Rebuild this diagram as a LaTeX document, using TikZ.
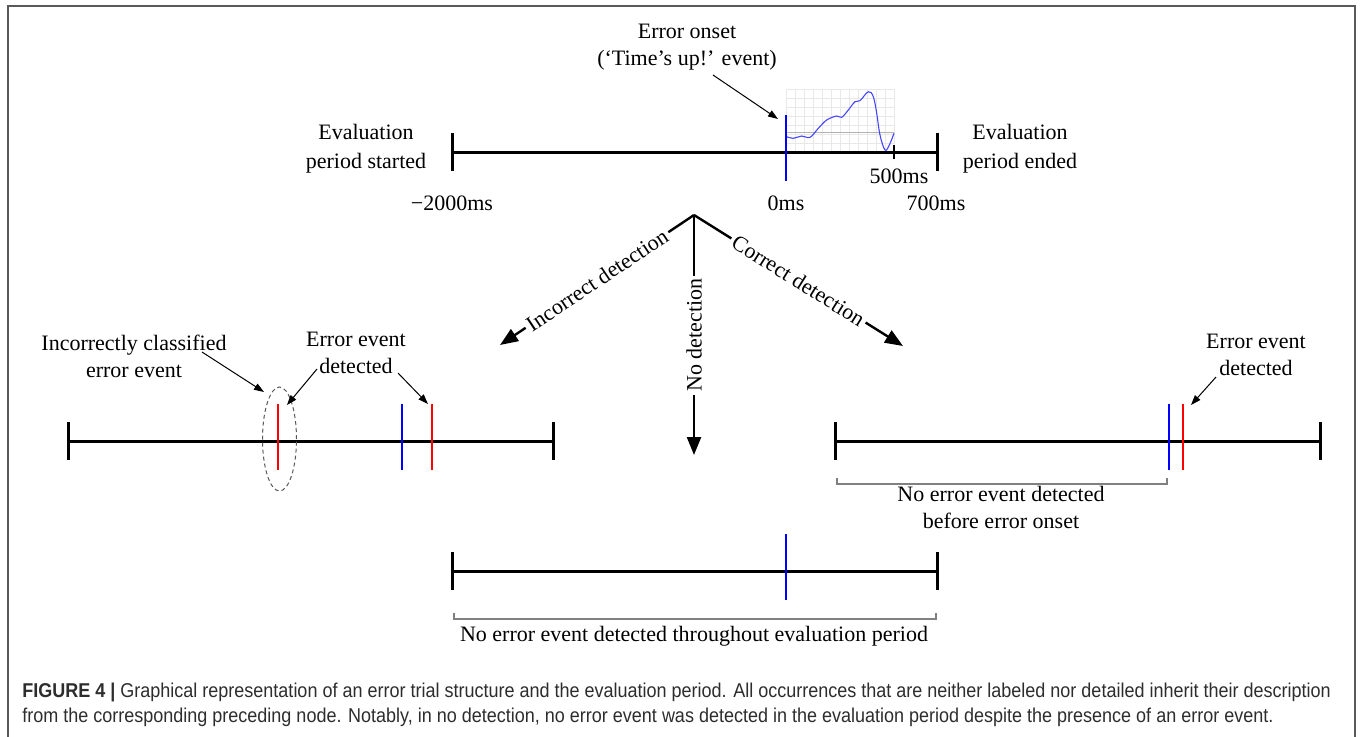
\documentclass[tikz,border=0pt]{standalone}
\usepackage{fontspec}
\setmainfont{Liberation Serif}
\newfontfamily\capfont[FakeStretch=0.9]{Liberation Sans}
\usetikzlibrary{arrows.meta,shapes.geometric}
\definecolor{evblue}{RGB}{0,0,255}
\definecolor{evred}{RGB}{255,0,0}
\definecolor{wave}{RGB}{70,70,255}
\definecolor{captxt}{RGB}{45,45,45}
\tikzset{
  lbl/.style={font=\fontsize{11}{13.5}\selectfont, align=center, inner sep=0pt},
  tl/.style={line width=1.5pt, line cap=butt},
  endtick/.style={line width=1.5pt},
  thinarr/.style={-{Triangle[length=5pt,width=3.5pt]}, line width=0.5pt},
  bigarr/.style={-{Triangle[length=9pt,width=7pt]}, line width=1.2pt},
  brk/.style={draw=gray, line width=0.6pt},
  captext/.style={anchor=base west, inner sep=0pt, text=captxt, font=\capfont\fontsize{10}{12.5}\selectfont},
  tline/.pic={
    \draw[tl] (0,0) -- (485,0);
    \draw[endtick] (0,-19) -- (0,19);
    \draw[endtick] (485,-19) -- (485,19);
  },
  bluemark/.pic={\draw[line width=1.4pt, evblue] (0,-37) -- (0,29);},
  redmark/.pic={\draw[line width=1.4pt, evred] (0,-37) -- (0,29);}
}
\begin{document}
\begin{tikzpicture}[x=0.5pt,y=-0.5pt]
\useasboundingbox (0,0) rectangle (1360,736);
% frame
\draw[black!65, line width=1pt] (8,750) -- (8,6) -- (1355,6) -- (1355,750);

% ---------- top panel ----------
% grid behind waveform
\foreach \i in {0,...,12} \draw[black!9, line width=0.3pt] (786+9*\i,89) -- (786+9*\i,152);
\foreach \j in {0,...,7} \draw[black!9, line width=0.3pt] (786,89+9*\j) -- (894,89+9*\j);
\draw[black!30, line width=0.4pt] (786,132) -- (894,132);
\draw[wave, line width=0.55pt] plot[smooth, tension=0.6] coordinates {
 (786.7,136.7) (793.3,138.3) (801.7,136) (810,137.3) (818.3,128.3) (826.7,120)
 (836.7,116) (841.7,117.3) (848.3,110) (855,101.7) (860,100.7) (868.3,91.7)
 (873.3,96.7) (876.7,113.3) (880,135) (885,150) (889.3,145) (894,133.3)};
\pic at (452,152) {tline};
\draw[line width=1.2pt] (894,145) -- (894,159);
\pic at (786,152) {bluemark};

\node[lbl] (eon) at (687,47) {Error onset\\(‘Time’s up!’ event)};
\coordinate (eonS) at (713,75);
\coordinate (eonE) at (778,119);
\draw[thinarr] (eonS) -- (eonE);
\node[lbl, font=\fontsize{11}{14.5}\selectfont] (evs) at (366,149) {Evaluation\\period started};
\node[lbl, font=\fontsize{11}{14.5}\selectfont] (eve) at (1020,149) {Evaluation\\period ended};
\node[lbl] (m2000) at (452,203) {−2000ms};
\node[lbl] (z0) at (786,203) {0ms};
\node[lbl] (p700) at (936,203) {700ms};
\node[lbl] (p500) at (899,176) {500ms};

% ---------- branching arrows ----------
\coordinate (br) at (694,215);
\coordinate (lend) at (500,345);
\coordinate (dend) at (694,455);
\coordinate (rend) at (903,346);
\draw[bigarr] (br) -- node[lbl, sloped, fill=white, inner sep=1.5pt] (incd) {Incorrect detection} (lend);
\draw[bigarr] (br) -- node[lbl, rotate=90, fill=white, inner sep=1.5pt] (nod) {No detection} (dend);
\draw[bigarr] (br) -- node[lbl, sloped, fill=white, inner sep=1.5pt] (cord) {Correct detection} (rend);

% ---------- left panel ----------
\pic at (68,441) {tline};
\pic at (278,441) {redmark};
\pic at (402,441) {bluemark};
\pic at (432,441) {redmark};
\node[draw=black!65, dash pattern=on 2pt off 1.5pt, line width=0.5pt, ellipse, inner sep=0pt,
      minimum width=17pt, minimum height=52pt] (ell) at (279.5,439) {};
\node[lbl] (icl) at (134,356) {Incorrectly classified\\error event};
\node[lbl] (eed1) at (356,353) {Error event\\detected};
\coordinate (a1s) at (202,352); \coordinate (a1e) at (264,392);
\coordinate (a2s) at (317,369); \coordinate (a2e) at (287,405);
\coordinate (a3s) at (398,373); \coordinate (a3e) at (428,404);
\draw[thinarr] (a1s) -- (a1e);
\draw[thinarr] (a2s) -- (a2e);
\draw[thinarr] (a3s) -- (a3e);

% ---------- right panel ----------
\pic at (835,441) {tline};
\pic at (1169,441) {bluemark};
\pic at (1183,441) {redmark};
\draw[brk] (837,478) -- (837,484) -- (1167,484) -- (1167,478);
\node[lbl] (neb) at (1001,507.5) {No error event detected\\before error onset};
\node[lbl] (eed2) at (1256,354.5) {Error event\\detected};
\coordinate (a4s) at (1216,377); \coordinate (a4e) at (1191,405);
\draw[thinarr] (a4s) -- (a4e);

% ---------- bottom panel ----------
\pic at (452,571) {tline};
\pic at (786,571) {bluemark};
\draw[brk] (454,613) -- (454,619) -- (936,619) -- (936,613);
\node[lbl] (net) at (694,636) {No error event detected throughout evaluation period};

% ---------- caption ----------
\node[captext] (cap1) at (22,697)
 {\textbf{FIGURE 4 |} Graphical representation of an error trial structure and the evaluation period. All occurrences that are neither labeled nor detailed inherit their description};
\node[captext] (cap2) at (22,722)
 {from the corresponding preceding node. Notably, in no detection, no error event was detected in the evaluation period despite the presence of an error event.};
\end{tikzpicture}
\end{document}
